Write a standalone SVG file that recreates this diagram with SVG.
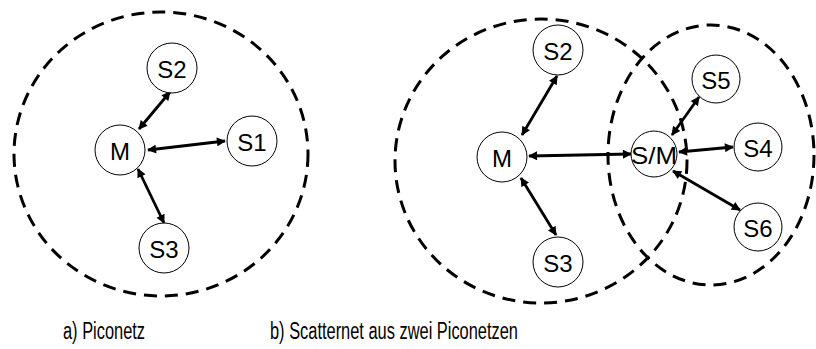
<svg xmlns="http://www.w3.org/2000/svg" width="816" height="349" viewBox="0 0 816 349">
  <style>
    .range { fill: none; stroke: #000; stroke-width: 3; stroke-dasharray: 13 8; }
    .node circle { fill: #fff; stroke: #000; stroke-width: 1; }
    .node text { font-family: "Liberation Sans", Arial, sans-serif; text-anchor: middle; dominant-baseline: central; fill: #000; }
    .link { stroke: #000; stroke-width: 2.8; fill: none; marker-start: url(#head); marker-end: url(#head); }
    .caption { font-family: "Liberation Sans", Arial, sans-serif; text-anchor: middle; fill: #000; }
  </style>
  <defs>
    <marker id="head" viewBox="0 0 10 10" refX="9" refY="5" markerWidth="3.6" markerHeight="3.2" markerUnits="strokeWidth" orient="auto-start-reverse">
      <path d="M0,0 L10,5 L0,10 z" fill="#000"/>
    </marker>
  </defs>

  <rect width="816" height="349" fill="#fff"/>

  <!-- coverage areas -->
  <g id="ranges">
    <ellipse class="range" cx="161" cy="154" rx="147" ry="142"/>
    <ellipse class="range" cx="541" cy="161" rx="146" ry="142"/>
    <ellipse class="range" cx="711" cy="155" rx="103" ry="130"/>
  </g>

  <!-- links -->
  <g id="connectors">
    <line class="link" x1="139" y1="129" x2="170" y2="92"/>
    <line class="link" x1="148" y1="150" x2="225" y2="141"/>
    <line class="link" x1="138" y1="169" x2="164" y2="223"/>

    <line class="link" x1="522" y1="135" x2="557" y2="76"/>
    <line class="link" x1="529" y1="156" x2="631" y2="154"/>
    <line class="link" x1="521" y1="178" x2="556" y2="235"/>
    <line class="link" x1="672" y1="135" x2="699" y2="97"/>
    <line class="link" x1="679" y1="152" x2="733" y2="147"/>
    <line class="link" x1="673" y1="171" x2="740" y2="210"/>
  </g>

  <!-- a) piconet -->
  <g id="a-M" class="node" font-size="24"><circle cx="120" cy="150" r="25"/><text x="120" y="151">M</text></g>
  <g id="a-S1" class="node" font-size="24"><circle cx="252" cy="141" r="25"/><text x="252" y="142">S1</text></g>
  <g id="a-S2" class="node" font-size="24"><circle cx="172" cy="68" r="25"/><text x="172" y="69">S2</text></g>
  <g id="a-S3" class="node" font-size="24"><circle cx="164" cy="248" r="25"/><text x="164" y="249">S3</text></g>

  <!-- b) scatternet -->
  <g id="b-M" class="node" font-size="24"><circle cx="502" cy="157" r="25"/><text x="502" y="158">M</text></g>
  <g id="b-S2" class="node" font-size="24"><circle cx="558" cy="50" r="25"/><text x="558" y="51">S2</text></g>
  <g id="b-S3" class="node" font-size="24"><circle cx="558" cy="262" r="25"/><text x="558" y="263">S3</text></g>
  <g id="b-SM" class="node" font-size="24"><circle cx="654" cy="154" r="23"/><text x="654" y="155" textLength="46" lengthAdjust="spacingAndGlyphs">S/M</text></g>
  <g id="b-S5" class="node" font-size="24"><circle cx="716" cy="79" r="24"/><text x="716" y="80">S5</text></g>
  <g id="b-S4" class="node" font-size="24"><circle cx="758" cy="147" r="24"/><text x="758" y="148">S4</text></g>
  <g id="b-S6" class="node" font-size="24"><circle cx="758" cy="227" r="24"/><text x="758" y="228">S6</text></g>

  <g id="captions" font-size="23">
    <text class="caption" x="104" y="339" textLength="82" lengthAdjust="spacingAndGlyphs">a) Piconetz</text>
    <text class="caption" x="394" y="339" textLength="248" lengthAdjust="spacingAndGlyphs">b) Scatternet aus zwei Piconetzen</text>
  </g>
</svg>
